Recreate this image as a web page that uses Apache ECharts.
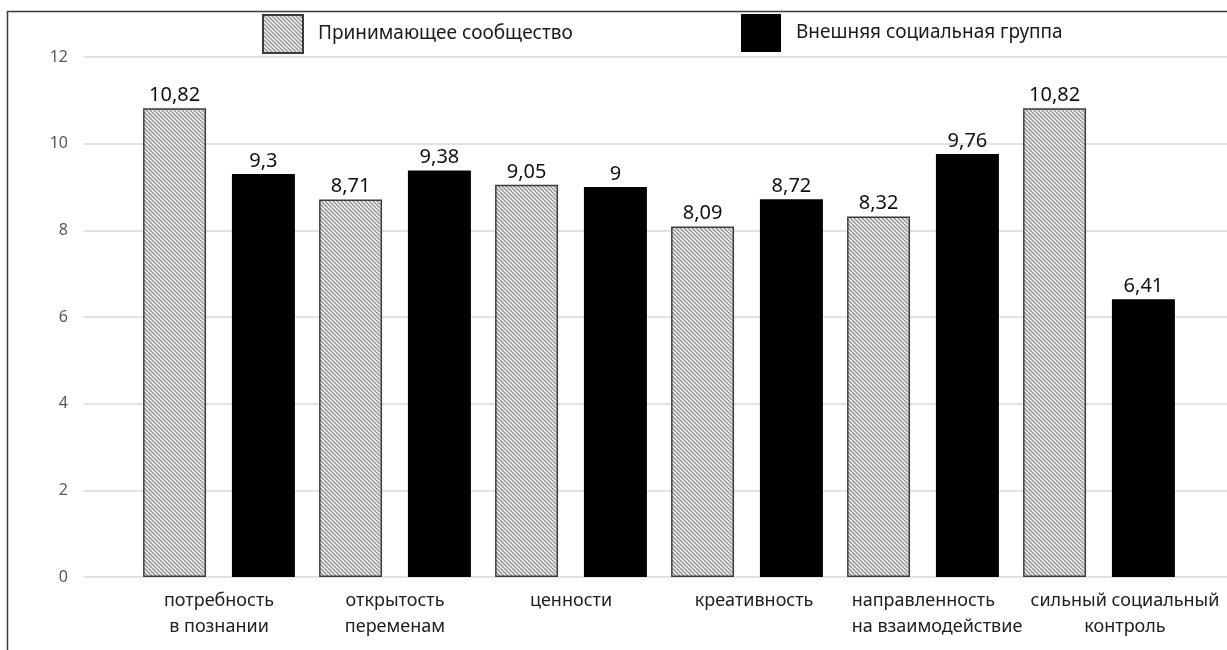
<!DOCTYPE html>
<html>
<head>
<meta charset="utf-8">
<title>chart</title>
<script src="https://cdn.jsdelivr.net/npm/echarts@6/dist/echarts.min.js"></script>
<style>
  html, body { margin: 0; padding: 0; background: #fff; }
  #main { width: 1227px; height: 650px; }
</style>
</head>
<body>
<div id="main"></div>
<script>
var categories = [
  "потребность\nв познании",
  "открытость\nпеременам",
  "ценности",
  "креативность",
  "направленность\nна взаимодействие",
  "сильный социальный\nконтроль"
];
var seriesNames = ["Принимающее сообщество", "Внешняя социальная группа"];
var hostValues = [10.82, 8.71, 9.05, 8.09, 8.32, 10.82];
var outerValues = [9.3, 9.38, 9, 8.72, 9.76, 6.41];
var yTicks = { min: 0, max: 12, interval: 2 };

// штриховка для светлых столбцов
function makeHatch() {
  var c = document.createElement("canvas");
  c.width = 8;
  c.height = 8;
  var ctx = c.getContext("2d");
  ctx.fillStyle = "#f2f2f2";
  ctx.fillRect(0, 0, 8, 8);
  ctx.strokeStyle = "#939393";
  ctx.lineWidth = 1.4;
  for (var k = -8; k <= 8; k += 4) {
    ctx.beginPath();
    ctx.moveTo(k, 0);
    ctx.lineTo(k + 8, 8);
    ctx.stroke();
  }
  return c;
}

var fontName = "'Noto Sans', 'Open Sans', sans-serif";
var myChart = echarts.init(document.getElementById("main"));

function labelFmt(p) {
  return String(p.value).replace(".", ",");
}

// подписи категорий как в Excel: некоторые сдвинуты/выровнены влево
var labelStyleKey = ["c", "c", "c", "k", "l", "s"];
function catLabel(value, index) {
  var key = labelStyleKey[index] || "c";
  return value.split("\n").map(function (line) {
    return "{" + key + "|" + line + "}";
  }).join("\n");
}
var catText = { fontSize: 18, lineHeight: 26, color: "#202020", fontFamily: fontName };

var option = {
  animation: false,
  textStyle: { fontFamily: fontName },
  graphic: [
    {
      type: "rect",
      left: 5,
      top: 9,
      shape: { width: 1260, height: 680 },
      style: { fill: "none", stroke: "#3a3a3a", lineWidth: 1.5 },
      silent: true
    }
  ],
  legend: [
    {
      data: [seriesNames[0]],
      left: 262,
      top: 14,
      padding: 0,
      itemWidth: 40,
      itemHeight: 38,
      icon: "rect",
      textStyle: { fontSize: 19, color: "#1a1a1a", padding: [2, 0, 0, 10] }
    },
    {
      data: [seriesNames[1]],
      left: 741,
      top: 14,
      padding: 0,
      itemWidth: 40,
      itemHeight: 38,
      icon: "rect",
      textStyle: { fontSize: 19, color: "#1a1a1a", padding: [2, 0, 0, 10] }
    }
  ],
  grid: [
    { left: 84, right: -20, top: 57, bottom: 73, outerBoundsMode: "none" },
    { left: 131, right: 40, top: 57, bottom: 73, outerBoundsMode: "none" }
  ],
  xAxis: [
    {
      gridIndex: 0,
      type: "category",
      data: categories,
      show: false
    },
    {
      gridIndex: 1,
      type: "category",
      data: categories,
      axisLine: { show: false },
      axisTick: { show: false },
      axisLabel: {
        interval: 0,
        margin: 11,
        fontSize: 18,
        lineHeight: 26,
        color: "#202020",
        fontFamily: fontName,
        formatter: catLabel,
        rich: {
          c: catText,
          k: Object.assign({ padding: [0, 0, 0, 14] }, catText),
          l: Object.assign({ align: "left", padding: [0, 0, 0, 28] }, catText),
          s: Object.assign({ padding: [0, 0, 0, 52] }, catText)
        }
      }
    }
  ],
  yAxis: [
    {
      gridIndex: 0,
      type: "value",
      min: yTicks.min,
      max: yTicks.max,
      interval: yTicks.interval,
      axisLine: { show: false },
      axisTick: { show: false },
      axisLabel: { fontSize: 16, color: "#595959", margin: 16 },
      splitLine: { lineStyle: { color: "#d9d9d9", width: 1.5 } }
    },
    {
      gridIndex: 1,
      type: "value",
      min: yTicks.min,
      max: yTicks.max,
      interval: yTicks.interval,
      show: false,
      splitLine: { show: false }
    }
  ],
  series: [
    {
      name: seriesNames[0],
      type: "bar",
      xAxisIndex: 1,
      yAxisIndex: 1,
      data: hostValues,
      barWidth: 63,
      barGap: "41%",
      itemStyle: {
        color: { image: makeHatch(), repeat: "repeat" },
        borderColor: "#3c3c3c",
        borderWidth: 1.5
      },
      label: {
        show: true,
        position: "top",
        distance: 3,
        fontSize: 20,
        color: "#111111",
        formatter: labelFmt
      }
    },
    {
      name: seriesNames[1],
      type: "bar",
      xAxisIndex: 1,
      yAxisIndex: 1,
      data: outerValues,
      barWidth: 63,
      itemStyle: { color: "#000000" },
      label: {
        show: true,
        position: "top",
        distance: 3,
        fontSize: 20,
        color: "#111111",
        formatter: labelFmt
      }
    }
  ]
};

myChart.setOption(option);
</script>
</body>
</html>
